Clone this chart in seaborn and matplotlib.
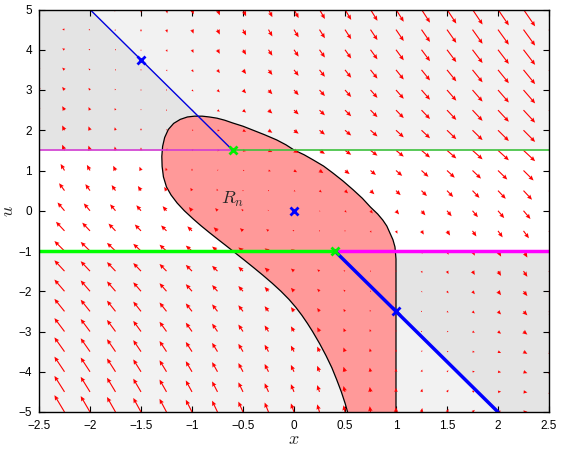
import numpy as np
import matplotlib
matplotlib.use("Agg")
import matplotlib.pyplot as plt
from matplotlib.ticker import FuncFormatter
import seaborn as sns

# Input constraint levels
u_max = 1.5
u_min = -1.0

# Unconstrained feedback line u = -2.5 x, shown in two pieces
line_upper_x = [-2.0, -0.6]
line_upper_u = [5.0, 1.5]
line_lower_x = [0.4, 2.0]
line_lower_u = [-1.0, -5.0]

# Marked points
blue_pts_x = [-1.5, 1.0, 0.0]
blue_pts_u = [3.75, -2.5, 0.0]
green_pts_x = [-0.6, 0.4]
green_pts_u = [1.5, -1.0]

# Boundary of the region R_n (traced counter-clockwise from the bottom)
rn_x = [0.525, 0.503, 0.464, 0.419, 0.371, 0.314, 0.251, 0.182, 0.132, 0.078,
        0.018, -0.05, -0.128, -0.214, -0.306, -0.402, -0.5, -0.6, -0.67, -0.741,
        -0.826, -0.913, -0.99, -1.075, -1.145, -1.205, -1.25, -1.28, -1.293,
        -1.296, -1.288, -1.268, -1.232, -1.18, -1.115, -1.045, -0.975, -0.9,
        -0.83, -0.755, -0.68, -0.6, -0.5, -0.4, -0.29, -0.17, -0.08, 0.0, 0.1,
        0.19, 0.29, 0.38, 0.48, 0.58, 0.67, 0.75, 0.82, 0.87, 0.91, 0.94, 0.97,
        0.99, 1.0, 1.0]
rn_u = [-5.0, -4.8, -4.5, -4.2, -3.9, -3.6, -3.3, -3.0, -2.8, -2.6,
        -2.4, -2.2, -2.0, -1.8, -1.6, -1.4, -1.2, -1.0, -0.86, -0.72,
        -0.55, -0.37, -0.2, 0.0, 0.19, 0.39, 0.59, 0.84, 1.1,
        1.35, 1.6, 1.82, 2.02, 2.17, 2.27, 2.33, 2.35, 2.35,
        2.33, 2.3, 2.25, 2.18, 2.1, 2.0, 1.89, 1.76, 1.64, 1.51, 1.39,
        1.26, 1.11, 0.94, 0.74, 0.52, 0.31, 0.09, -0.08, -0.23, -0.38, -0.55, -0.72,
        -0.9, -1.2, -5.0]

# Vector field sampling grid
grid_x = np.linspace(-2.5, 2.5, 21)
grid_u = np.linspace(-5.0, 5.0, 21)
# Closed-loop rates: x' = x + sat(u),  u' = k_x x + k_u u
k_x, k_u = -3.0, -1.4
arrow_scale = 0.0304

x_ticks = [-2.5, -2, -1.5, -1, -0.5, 0, 0.5, 1, 1.5, 2, 2.5]
u_ticks = [-5, -4, -3, -2, -1, 0, 1, 2, 3, 4, 5]

sns.set_style("ticks")
plt.rcParams["font.family"] = ["Liberation Sans", "DejaVu Sans"]
plt.rcParams["mathtext.fontset"] = "cm"

fig = plt.figure(figsize=(5.61, 4.49), dpi=100)
ax = fig.add_axes([39 / 561, 1 - 412 / 449, 510 / 561, 402.5 / 449])
ax.set_xlim(-2.5, 2.5)
ax.set_ylim(-5, 5)

light = "#f2f2f2"
dark = "#e4e4e4"
# constraint-violating bands
ax.fill_between([-2.5, 2.5], u_max, 5, color=light, lw=0, zorder=0)
ax.fill_between([-2.5, 2.5], -5, u_min, color=light, lw=0, zorder=0)
# darker wedges bounded by the feedback line
ax.fill([-2.5, line_upper_x[1], line_upper_x[0], -2.5],
        [u_max, line_upper_u[1], line_upper_u[0], 5], color=dark, lw=0, zorder=0.5)
ax.fill([blue_pts_x[1], 2.5, 2.5, line_lower_x[1], blue_pts_x[1]],
        [u_min, u_min, -5, line_lower_u[1], blue_pts_u[1]], color=dark, lw=0, zorder=0.5)

# region R_n
ax.fill(rn_x, rn_u, color="#ff9999", lw=0, zorder=1)
ax.plot(rn_x, rn_u, color="black", lw=0.9, zorder=1.5, solid_joinstyle="round")

# vector field
X, U = np.meshgrid(grid_x, grid_u)
x_rate = X + np.clip(U, u_min, u_max)
u_rate = k_x * X + k_u * U
ax.quiver(X, U, arrow_scale * x_rate, arrow_scale * u_rate, color="red",
          angles="xy", scale_units="xy", scale=1, width=0.0022,
          headwidth=4, headlength=4.5, headaxislength=4, zorder=2)

# constraint lines
sns.lineplot(x=[-2.5, green_pts_x[0]], y=[u_max, u_max], color="#d23cd2", lw=1.2, ax=ax, zorder=3)
sns.lineplot(x=[green_pts_x[0], 2.5], y=[u_max, u_max], color="#3cc03c", lw=1.2, ax=ax, zorder=3)
sns.lineplot(x=[-2.5, green_pts_x[1]], y=[u_min, u_min], color="#00ff00", lw=2.5, ax=ax, zorder=3)
sns.lineplot(x=[green_pts_x[1], 2.5], y=[u_min, u_min], color="#ff00ff", lw=2.5, ax=ax, zorder=3)

# feedback line pieces
sns.lineplot(x=line_upper_x, y=line_upper_u, color="#0000dd", lw=1.0, ax=ax, zorder=4)
sns.lineplot(x=line_lower_x, y=line_lower_u, color="#0000ff", lw=2.5, ax=ax, zorder=4)

# markers
ax.plot(blue_pts_x, blue_pts_u, ls="none", marker="x", ms=6, mew=2, color="#0000ff", zorder=5)
ax.plot(green_pts_x, green_pts_u, ls="none", marker="x", ms=6, mew=2, color="#00ee00", zorder=5)

ax.text(-0.6, 0.28, r"$R_n$", fontsize=13, ha="center", va="center", zorder=6)

ax.set_xticks(x_ticks)
ax.set_yticks(u_ticks)
fmt = FuncFormatter(lambda v, p: ("%g" % v).replace("-", "\u2212"))
ax.xaxis.set_major_formatter(fmt)
ax.yaxis.set_major_formatter(fmt)
ax.tick_params(direction="in", length=4, width=0.8, labelsize=8.5,
               top=True, right=True, colors="black")
ax.tick_params(axis="x", pad=6)
ax.tick_params(axis="y", pad=5)
for s in ax.spines.values():
    s.set_linewidth(1.0)
    s.set_color("black")
    s.set_zorder(7)
ax.set_xlabel(r"$x$", fontsize=13, va="center")
ax.xaxis.set_label_coords(0.5, -0.068)
ax.set_ylabel(r"$u$", fontsize=13, labelpad=1)

fig.savefig("out.png", dpi=100)
